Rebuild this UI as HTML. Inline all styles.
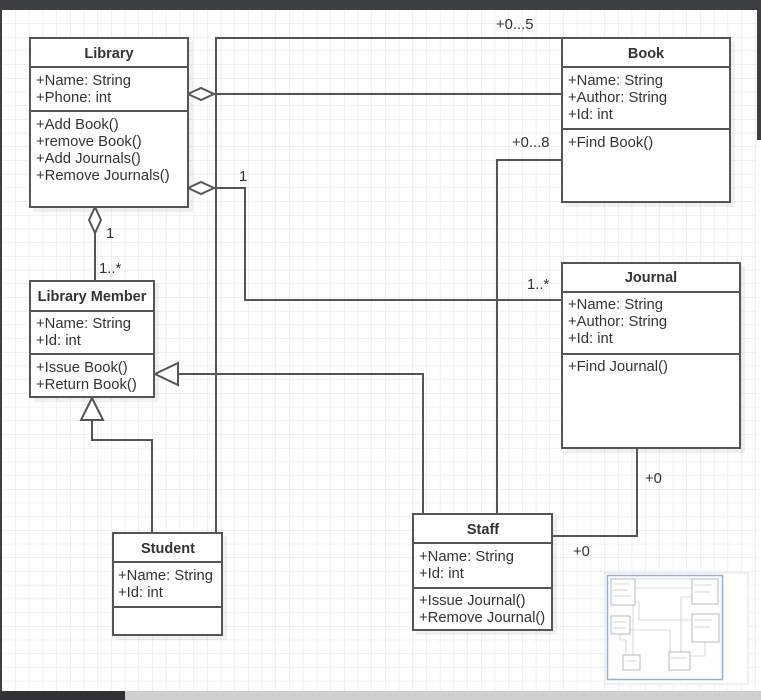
<!DOCTYPE html>
<html><head><meta charset="utf-8"><style>
html,body{margin:0;padding:0;width:761px;height:700px;overflow:hidden;background:#fff}
svg{display:block}
text{font-family:"Liberation Sans",sans-serif;font-size:14.8px;fill:#333}
.b{font-weight:bold;text-anchor:middle;font-size:14.5px}
.box{fill:#fff;stroke:#555;stroke-width:2}
.ln{stroke:#555;stroke-width:2;fill:none}
</style></head><body>
<svg width="761" height="700" viewBox="0 0 761 700">
<defs>
<pattern id="g" x="2" y="10" width="13.7" height="13.7" patternUnits="userSpaceOnUse">
<path d="M13.7 0V13.7H0" fill="none" stroke="#e2e2e2" stroke-width="1"/>
</pattern>
</defs>
<rect width="761" height="700" fill="#fff"/>
<rect x="2" y="10" width="756" height="682" fill="url(#g)"/>
<rect x="0" y="0" width="761" height="10" fill="#3b3e42"/>
<rect x="0" y="10" width="2" height="682" fill="#3b3e42"/>
<rect x="757" y="10" width="4" height="130" fill="#3b3e42"/>
<rect x="0" y="691" width="761" height="9" fill="#cfcfcf"/>
<rect x="0" y="691" width="125" height="9" fill="#2f3236"/>

<!-- shadows -->
<g fill="#000" opacity="0.06">
<rect x="33" y="41" width="160" height="171"/>
<rect x="33" y="284" width="126" height="118"/>
<rect x="565" y="41" width="170" height="166"/>
<rect x="565" y="266" width="180" height="187"/>
<rect x="116" y="536" width="111" height="104"/>
<rect x="416" y="517" width="141" height="118"/>
</g>

<!-- connectors -->
<polyline class="ln" points="216,533 216,38 562,38"/>
<line class="ln" x1="214" y1="94" x2="562" y2="94"/>
<polygon points="188,94 201,88 214,94 201,100" fill="#fff" stroke="#555" stroke-width="2"/>
<polyline class="ln" points="214,188 245,188 245,300 562,300"/>
<polygon points="188,188 201,182 214,188 201,194" fill="#fff" stroke="#555" stroke-width="2"/>
<line class="ln" x1="95" y1="233" x2="95" y2="281"/>
<polygon points="95,207 101,220 95,233 89,220" fill="#fff" stroke="#555" stroke-width="2"/>
<polyline class="ln" points="497,514 497,160 562,160"/>
<polyline class="ln" points="423,514 423,374 178,374"/>
<polygon points="155,374 178,363 178,385" fill="#fff" stroke="#555" stroke-width="2"/>
<polyline class="ln" points="92,420 92,440 152,440 152,533"/>
<polygon points="92,398 81,420 103,420" fill="#fff" stroke="#555" stroke-width="2"/>
<polyline class="ln" points="637,448 637,536 552,536"/>

<!-- labels -->
<text x="496" y="29">+0...5</text>
<text x="512" y="147">+0...8</text>
<text x="239" y="181">1</text>
<text x="106" y="238">1</text>
<text x="99" y="273">1..*</text>
<text x="527" y="289">1..*</text>
<text x="645" y="483">+0</text>
<text x="573" y="556">+0</text>

<!-- Library -->
<rect x="30" y="38" width="158" height="169" class="box"/>
<line class="ln" x1="30" y1="67" x2="188" y2="67"/>
<line class="ln" x1="30" y1="111" x2="188" y2="111"/>
<text x="109" y="58" class="b">Library</text>
<text x="36" y="85">+Name: String</text>
<text x="36" y="102">+Phone: int</text>
<text x="36" y="129">+Add Book()</text>
<text x="36" y="146">+remove Book()</text>
<text x="36" y="163">+Add Journals()</text>
<text x="36" y="180">+Remove Journals()</text>

<!-- Library Member -->
<rect x="30" y="281" width="124" height="116" class="box"/>
<line class="ln" x1="30" y1="311" x2="154" y2="311"/>
<line class="ln" x1="30" y1="354" x2="154" y2="354"/>
<text x="92" y="301" class="b">Library Member</text>
<text x="36" y="328">+Name: String</text>
<text x="36" y="345">+Id: int</text>
<text x="36" y="372">+Issue Book()</text>
<text x="36" y="389">+Return Book()</text>

<!-- Book -->
<rect x="562" y="38" width="168" height="164" class="box"/>
<line class="ln" x1="562" y1="67" x2="730" y2="67"/>
<line class="ln" x1="562" y1="129" x2="730" y2="129"/>
<text x="646" y="58" class="b">Book</text>
<text x="568" y="85">+Name: String</text>
<text x="568" y="102">+Author: String</text>
<text x="568" y="119">+Id: int</text>
<text x="568" y="147">+Find Book()</text>

<!-- Journal -->
<rect x="562" y="263" width="178" height="185" class="box"/>
<line class="ln" x1="562" y1="292" x2="740" y2="292"/>
<line class="ln" x1="562" y1="354" x2="740" y2="354"/>
<text x="651" y="282" class="b">Journal</text>
<text x="568" y="309">+Name: String</text>
<text x="568" y="326">+Author: String</text>
<text x="568" y="343">+Id: int</text>
<text x="568" y="371">+Find Journal()</text>

<!-- Student -->
<rect x="113" y="533" width="109" height="102" class="box"/>
<line class="ln" x1="113" y1="562" x2="222" y2="562"/>
<line class="ln" x1="113" y1="607" x2="222" y2="607"/>
<text x="168" y="553" class="b">Student</text>
<text x="118" y="580">+Name: String</text>
<text x="118" y="597">+Id: int</text>

<!-- Staff -->
<rect x="413" y="514" width="139" height="116" class="box"/>
<line class="ln" x1="413" y1="543" x2="552" y2="543"/>
<line class="ln" x1="413" y1="588" x2="552" y2="588"/>
<text x="483" y="534" class="b">Staff</text>
<text x="419" y="561">+Name: String</text>
<text x="419" y="578">+Id: int</text>
<text x="419" y="605">+Issue Journal()</text>
<text x="419" y="622">+Remove Journal()</text>

<!-- minimap -->
<rect x="605" y="573" width="143" height="111" fill="#fff" stroke="#e0e0e0"/>
<rect x="607.5" y="575.5" width="115" height="104" fill="#fff" stroke="#8ab4e0" stroke-width="1.5"/>
<g stroke="#bbb" stroke-width="0.6" fill="none">
<polyline points="633,655 633,579 692,579"/>
<line x1="635" y1="588" x2="692" y2="588"/>
<polyline points="635,602 639,602 639,620 692,620"/>
<polyline points="681,652 681,597 692,597"/>
<polyline points="670,652 670,630 630,630"/>
<polyline points="626,655 626,640 620,640 620,634"/>
<polyline points="705,642 705,656 690,656"/>
</g>
<g fill="#fff" stroke="#aaa" stroke-width="0.8">
<rect x="611" y="579" width="24" height="26"/>
<rect x="611" y="616" width="19" height="18"/>
<rect x="692" y="579" width="26" height="25"/>
<rect x="692" y="614" width="27" height="28"/>
<rect x="623" y="655" width="17" height="15"/>
<rect x="669" y="652" width="21" height="18"/>
</g>
<g stroke="#ccc" stroke-width="0.8">
<line x1="613" y1="584" x2="630" y2="584"/><line x1="613" y1="590" x2="628" y2="590"/><line x1="613" y1="596" x2="631" y2="596"/>
<line x1="694" y1="585" x2="712" y2="585"/><line x1="694" y1="592" x2="710" y2="592"/>
<line x1="694" y1="620" x2="712" y2="620"/><line x1="694" y1="627" x2="710" y2="627"/>
<line x1="613" y1="622" x2="627" y2="622"/><line x1="613" y1="628" x2="626" y2="628"/>
<line x1="671" y1="658" x2="687" y2="658"/><line x1="625" y1="661" x2="637" y2="661"/>
</g>
</svg>
</body></html>
